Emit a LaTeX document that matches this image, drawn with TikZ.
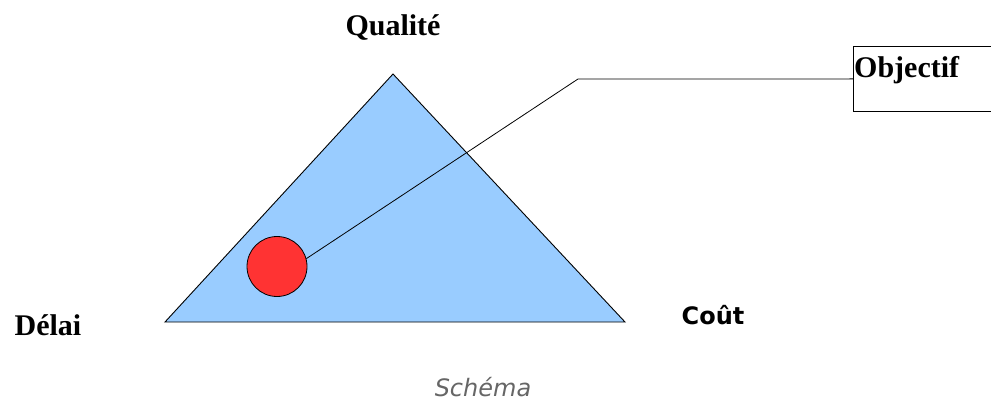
\documentclass[tikz,border=0pt]{standalone}
\usepackage{fontspec}
\setmainfont{Liberation Serif}
\newfontfamily\labelsans{DejaVu Sans}
\definecolor{trifill}{HTML}{99CCFF}
\definecolor{dotred}{HTML}{FF3333}
\definecolor{captiongray}{HTML}{666666}
\begin{document}
\begin{tikzpicture}[
    x=1pt, y=-1pt,
    corner/.style={font=\fontsize{30}{31}\selectfont\bfseries, inner sep=0pt},
    goalbox/.style={draw, thick, minimum width=150pt, minimum height=65pt, anchor=north west, inner sep=0pt},
    link/.style={line width=0.8pt}
]
\useasboundingbox (0,0) rectangle (991,401);
\clip (0,0) rectangle (991,401);

% Triangle
\coordinate (apex) at (393,74);
\coordinate (left) at (165,322);
\coordinate (right) at (625,322);
\draw[fill=trifill, line width=0.9pt] (left) -- (apex) -- (right) -- cycle;

% Corner labels
\node[corner] (qual) at (393,28) {Qualité};
\node[corner] (delai) at (48,325) {Délai};
\node[font=\labelsans\fontsize{24}{26}\selectfont\bfseries, inner sep=0pt] (cout) at (713,315) {Coût};

% Target dot
\node[circle, draw, thick, fill=dotred, minimum size=60pt, inner sep=0pt] (dot) at (277,266.5) {};

% Objective box
\node[goalbox] (goal) at (853,46) {};
\node[corner, anchor=north west] (objlabel) at ([xshift=1pt, yshift=-10pt]goal.north west) {Objectif};

% Connector
\coordinate (bend) at (578,79);
\draw[link] (dot.15) -- (bend) -- (goal.west);

% Caption
\node[font=\labelsans\fontsize{24}{26}\selectfont\itshape, text=captiongray, inner sep=0pt] (caption) at (483,387) {Schéma};
\end{tikzpicture}
\end{document}
